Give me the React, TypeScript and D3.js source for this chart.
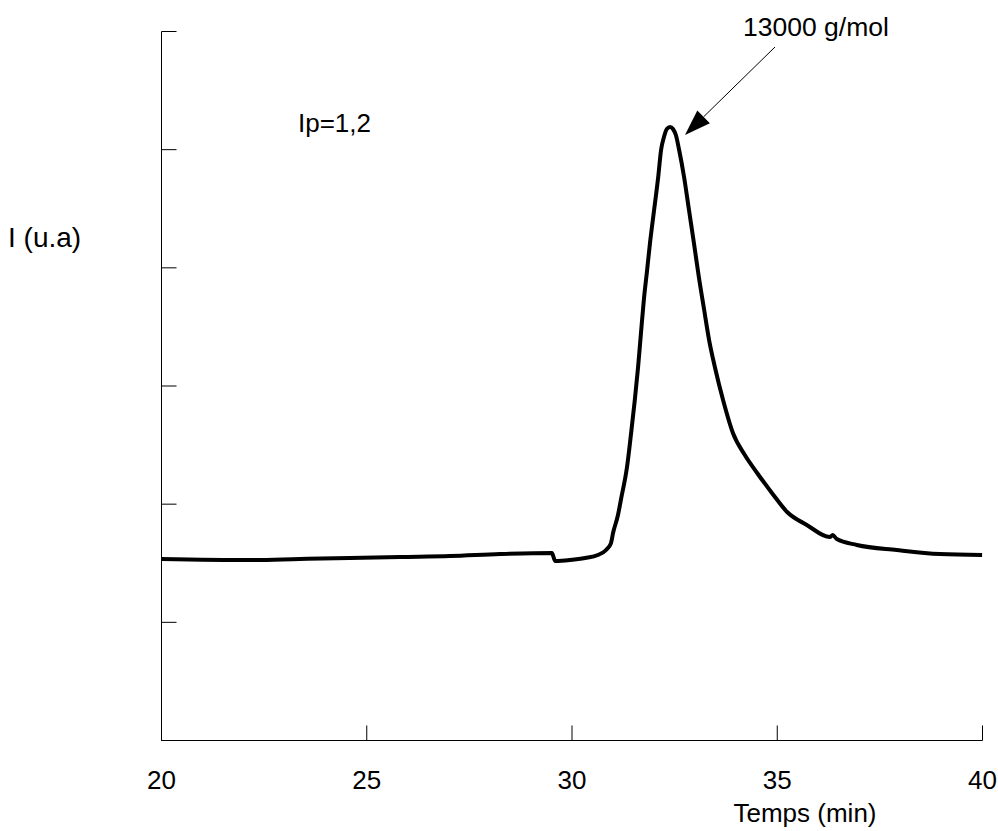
import React, { useEffect } from "react";
import * as d3 from "d3";

const timeMin = [20.0, 22.16, 23.37, 24.59, 25.81, 27.03, 28.25, 29.51, 29.59, 29.95, 30.32, 30.63, 30.83, 30.95, 31.0, 31.12, 31.19, 31.34, 31.44, 31.53, 31.61, 31.68, 31.75, 31.83, 31.9, 32.0, 32.1, 32.17, 32.24, 32.31, 32.39, 32.46, 32.53, 32.61, 32.73, 32.85, 32.97, 33.09, 33.22, 33.34, 33.48, 33.68, 33.92, 34.21, 34.51, 34.87, 35.24, 35.72, 36.28, 36.35, 36.45, 36.94, 37.91, 38.96, 39.99];
const intensity = [1.536, 1.527, 1.536, 1.544, 1.553, 1.561, 1.578, 1.587, 1.519, 1.527, 1.544, 1.57, 1.612, 1.671, 1.756, 1.908, 2.035, 2.314, 2.602, 2.881, 3.161, 3.448, 3.728, 3.982, 4.21, 4.489, 4.769, 4.997, 5.107, 5.175, 5.192, 5.175, 5.124, 4.997, 4.769, 4.489, 4.21, 3.922, 3.643, 3.389, 3.161, 2.881, 2.602, 2.416, 2.264, 2.095, 1.934, 1.824, 1.722, 1.739, 1.705, 1.655, 1.612, 1.578, 1.57];
const xTicks = [20, 25, 30, 35, 40];
const yTicks = [0, 1, 2, 3, 4, 5, 6];
const xLabel = "Temps (min)";
const yLabel = "I (u.a)";
const seriesLabel = "Ip=1,2";
const peakLabel = "13000 g/mol";

const W = 998;
const H = 831;
const FONT = "'Liberation Sans', Arial, sans-serif";

export default function App() {
  useEffect(() => {
    document.body.style.margin = "0";
  }, []);
  const x = d3.scaleLinear().domain([20, 40]).range([161.5, 982.5]);
  const y = d3.scaleLinear().domain([0, 6]).range([740.5, 31.5]);
  const pts = timeMin.map((t, i) => [t, intensity[i]] as [number, number]);
  const line = d3
    .line<[number, number]>()
    .x((d) => x(d[0]))
    .y((d) => y(d[1]))
    .curve(d3.curveMonotoneX);

  // arrow geometry
  const ax0 = 775, ay0 = 47, ax1 = 685, ay1 = 135;
  const ang = Math.atan2(ay1 - ay0, ax1 - ax0);
  const hl = 26, hw = 9;
  const bx = ax1 - hl * Math.cos(ang), by = ay1 - hl * Math.sin(ang);
  const p1 = [bx + hw * Math.sin(ang), by - hw * Math.cos(ang)];
  const p2 = [bx - hw * Math.sin(ang), by + hw * Math.cos(ang)];

  return (
    <svg width={W} height={H} style={{ display: "block", background: "#fff" }}>
      <rect width={W} height={H} fill="#fff" />
      {/* axes */}
      <line x1={x(20)} y1={y(6)} x2={x(20)} y2={y(0)} stroke="#000" strokeWidth={1} />
      <line x1={x(20)} y1={y(0)} x2={x(40)} y2={y(0)} stroke="#000" strokeWidth={1} />
      {yTicks.map((t) => (
        <line key={"yt" + t} x1={x(20)} x2={x(20) + 15} y1={y(t)} y2={y(t)} stroke="#000" strokeWidth={1} />
      ))}
      {xTicks.map((t) => (
        <g key={"xt" + t}>
          <line x1={x(t)} x2={x(t)} y1={y(0)} y2={y(0) - 15} stroke="#000" strokeWidth={1} />
          <text x={x(t)} y={789} textAnchor="middle" fontFamily={FONT} fontSize={26} fill="#000">
            {t}
          </text>
        </g>
      ))}
      <text x={805} y={822} textAnchor="middle" fontFamily={FONT} fontSize={26} fill="#000">
        {xLabel}
      </text>
      <text x={8} y={247} fontFamily={FONT} fontSize={28} fill="#000">
        {yLabel}
      </text>
      <text x={298} y={132} fontFamily={FONT} fontSize={26} fill="#000">
        {seriesLabel}
      </text>
      <text x={743} y={36} fontFamily={FONT} fontSize={26.5} fill="#000">
        {peakLabel}
      </text>
      {/* curve */}
      <path d={line(pts) || ""} fill="none" stroke="#000" strokeWidth={4} strokeLinejoin="round" />
      {/* arrow */}
      <line x1={ax0} y1={ay0} x2={bx} y2={by} stroke="#000" strokeWidth={1} />
      <polygon points={`${ax1},${ay1} ${p1[0]},${p1[1]} ${p2[0]},${p2[1]}`} fill="#000" />
    </svg>
  );
}
